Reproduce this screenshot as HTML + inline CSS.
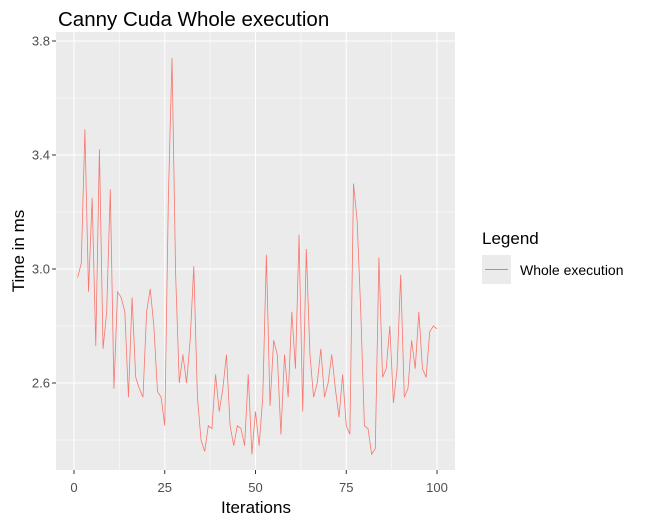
<!DOCTYPE html>
<html><head><meta charset="utf-8"><style>
body{margin:0;background:#fff;font-family:"Liberation Sans",Arial,sans-serif}
svg text{font-family:"Liberation Sans",Arial,sans-serif}
</style></head><body>
<svg id="chart" width="647" height="527" xmlns="http://www.w3.org/2000/svg">
<text x="58" y="26" font-size="20.5" fill="#000">Canny Cuda Whole execution</text>
<rect x="56" y="32" width="399" height="438" fill="#ebebeb"/>
<g id="grid"></g>
<g id="series"></g>
<g id="axes"></g>
<text x="256" y="513" font-size="17" text-anchor="middle" fill="#000">Iterations</text>
<text transform="translate(24,251) rotate(-90)" font-size="17" text-anchor="middle" fill="#000">Time in ms</text>
<text x="482" y="244" font-size="17" fill="#000">Legend</text>
<rect x="482" y="255" width="29" height="29" fill="#ebebeb"/>
<line x1="485" y1="269.5" x2="508" y2="269.5" stroke="#f8766d" stroke-width="1"/>
<text x="520" y="275" font-size="14" fill="#000">Whole execution</text>
</svg>
<script>
const values=[2.97,3.02,3.49,2.92,3.25,2.73,3.42,2.72,2.85,3.28,2.58,2.92,2.9,2.85,2.55,2.9,2.62,2.58,2.55,2.85,2.93,2.8,2.57,2.55,2.45,3.25,3.74,2.98,2.6,2.7,2.6,2.75,3.01,2.55,2.4,2.36,2.45,2.44,2.63,2.5,2.58,2.7,2.45,2.38,2.45,2.44,2.38,2.63,2.35,2.5,2.38,2.55,3.05,2.52,2.75,2.7,2.42,2.7,2.55,2.85,2.65,3.12,2.5,3.07,2.7,2.55,2.6,2.72,2.55,2.6,2.7,2.58,2.48,2.63,2.45,2.42,3.3,3.17,2.85,2.45,2.44,2.35,2.37,3.04,2.62,2.65,2.8,2.53,2.65,2.98,2.55,2.58,2.75,2.65,2.85,2.65,2.62,2.78,2.8,2.79];
const xTicks=[0,25,50,75,100];
const yTicks=[2.6,3.0,3.4,3.8];
const NS="http://www.w3.org/2000/svg";
function xs(v){return 74+v*(437-74)/100;}
function ys(v){return 383-(v-2.6)*285;}
const grid=document.getElementById('grid'),ser=document.getElementById('series'),ax=document.getElementById('axes');
function mk(tag,attrs,parent){const e=document.createElementNS(NS,tag);for(const k in attrs)e.setAttribute(k,attrs[k]);parent.appendChild(e);return e;}
for(let i=0;i<xTicks.length-1;i++){const m=(xTicks[i]+xTicks[i+1])/2;const l=mk('line',{x1:xs(m),x2:xs(m),y1:32,y2:470,stroke:'#fff','stroke-width':0.5},grid);

}
for(let i=0;i<yTicks.length;i++){const m=yTicks[i]-0.2;const l=mk('line',{x1:56,x2:455,y1:ys(m),y2:ys(m),stroke:'#fff','stroke-width':0.5},grid);

}
xTicks.forEach(t=>{const l=mk('line',{x1:xs(t),x2:xs(t),y1:32,y2:470,stroke:'#fff','stroke-width':1},grid);


const k=mk('line',{x1:xs(t),x2:xs(t),y1:470,y2:474,stroke:'#333'},ax);


const tx=mk('text',{x:xs(t),y:492,'font-size':13,'text-anchor':'middle',fill:'#4d4d4d'},ax);tx.textContent=t;

});
yTicks.forEach(t=>{const l=mk('line',{x1:56,x2:455,y1:ys(t),y2:ys(t),stroke:'#fff','stroke-width':1},grid);


const k=mk('line',{x1:52,x2:56,y1:ys(t),y2:ys(t),stroke:'#333'},ax);


const tx=mk('text',{x:50,y:ys(t)+4.5,'font-size':13,'text-anchor':'end',fill:'#4d4d4d'},ax);tx.textContent=t.toFixed(1);

});
const pts=values.map((v,i)=>xs(i+1).toFixed(2)+','+ys(v).toFixed(2)).join(' ');
const pl=mk('polyline',{points:pts,fill:'none',stroke:'#f8766d','stroke-width':0.8},ser);


</script>
</body></html>
